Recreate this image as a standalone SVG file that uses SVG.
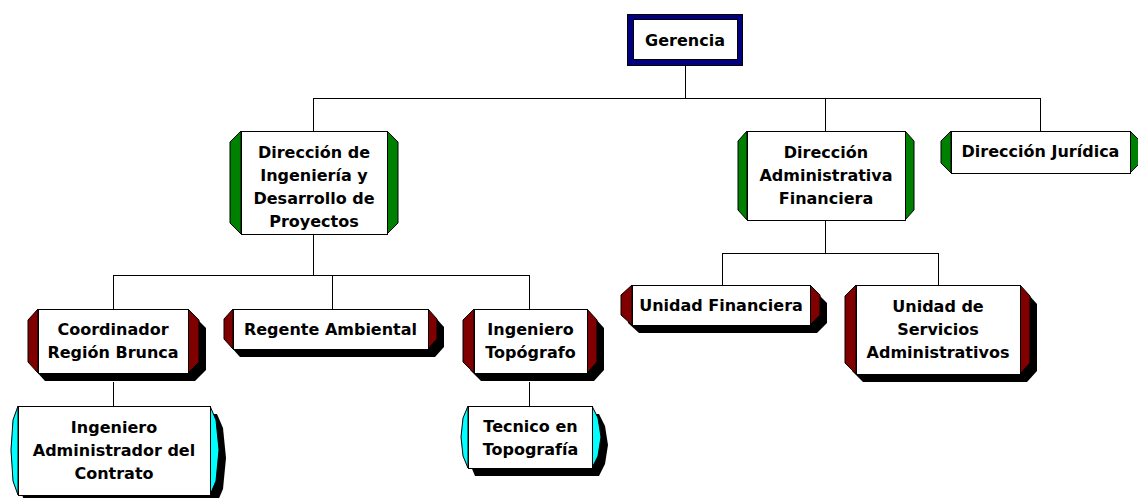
<svg xmlns="http://www.w3.org/2000/svg" width="1138" height="498" viewBox="0 0 1138 498">
  <style>
    .bg { fill: #ffffff; }
    .line { stroke: #000000; stroke-width: 1; fill: none; shape-rendering: crispEdges; }
    .box { fill: #ffffff; stroke: #000000; stroke-width: 1; shape-rendering: crispEdges; }
    .shadow { fill: #000000; }
    .green { fill: #008000; stroke: #000000; stroke-width: 1; }
    .red { fill: #800000; stroke: #000000; stroke-width: 1; }
    .cyan { fill: #00ffff; stroke: #000000; stroke-width: 1; }
    .navy { fill: #000080; stroke: #000000; stroke-width: 1; shape-rendering: crispEdges; }
    .label { font-family: "DejaVu Sans", "Liberation Sans", sans-serif; font-weight: bold; font-size: 16px; fill: #000000; text-anchor: middle; }
  </style>
  <rect class="bg" x="0" y="0" width="1138" height="498"/>

  <!-- connectors -->
  <g id="connectors">
    <path class="line" d="M685.5 65 V98.5 M313 98.5 H1040.5 M313.5 98 V131 M825.5 98 V131 M1040.5 98 V131"/>
    <path class="line" d="M313.5 234 V275.5 M113 275.5 H529.5 M113.5 275 V309 M332.5 275 V309 M529.5 275 V309"/>
    <path class="line" d="M825.5 220 V253.5 M722 253.5 H938.5 M722.5 253 V285 M938.5 253 V285"/>
    <path class="line" d="M113.5 382 V406 M529.5 382 V406"/>
  </g>

  <!-- top level -->
  <g id="gerencia">
    <rect class="navy" x="627.5" y="14.5" width="115" height="51"/>
    <rect class="box" x="633.5" y="19.5" width="104" height="40"/>
    <text class="label" x="685" y="46">Gerencia</text>
  </g>

  <!-- second level -->
  <g id="dir-ingenieria">
    <polygon class="green" points="241,131 230,142 230,223 241,234"/>
    <polygon class="green" points="387,131 398,142 398,223 387,234"/>
    <rect class="box" x="241.5" y="131.5" width="146" height="103"/>
    <text class="label" x="314" y="158">Dirección de</text>
    <text class="label" x="314" y="181">Ingeniería y</text>
    <text class="label" x="314" y="204">Desarrollo de</text>
    <text class="label" x="314" y="227">Proyectos</text>
  </g>

  <g id="dir-administrativa">
    <polygon class="green" points="747,131 738,141 738,210 747,220"/>
    <polygon class="green" points="905,131 914,141 914,210 905,220"/>
    <rect class="box" x="747.5" y="131.5" width="158" height="89"/>
    <text class="label" x="826" y="158">Dirección</text>
    <text class="label" x="826" y="181">Administrativa</text>
    <text class="label" x="826" y="204">Financiera</text>
  </g>

  <g id="dir-juridica">
    <polygon class="green" points="951,131 941,141 941,163 951,173"/>
    <polygon class="green" points="1130,131 1140,141 1140,163 1130,173"/>
    <rect class="box" x="951.5" y="131.5" width="179" height="42"/>
    <text class="label" x="1040.5" y="157">Dirección Jurídica</text>
  </g>

  <!-- third level -->
  <g id="coordinador">
    <polygon class="shadow" transform="translate(7,8)" points="38,309 188,309 199,320 199,362 188,373 38,373 28,362 28,320"/>
    <polygon class="red" points="38,309 28,320 28,362 38,373"/>
    <polygon class="red" points="188,309 199,320 199,362 188,373"/>
    <rect class="box" x="38.5" y="309.5" width="150" height="64"/>
    <text class="label" x="113" y="335">Coordinador</text>
    <text class="label" x="113" y="358">Región Brunca</text>
  </g>

  <g id="regente">
    <polygon class="shadow" transform="translate(7,8)" points="233,309 428,309 437,319 437,339 428,349 233,349 224,339 224,319"/>
    <polygon class="red" points="233,309 224,319 224,339 233,349"/>
    <polygon class="red" points="428,309 437,319 437,339 428,349"/>
    <rect class="box" x="233.5" y="309.5" width="195" height="40"/>
    <text class="label" x="330.5" y="335">Regente Ambiental</text>
  </g>

  <g id="topografo">
    <polygon class="shadow" transform="translate(7,8)" points="474,309 587,309 597,320 597,362 587,373 474,373 463,362 463,320"/>
    <polygon class="red" points="474,309 463,320 463,362 474,373"/>
    <polygon class="red" points="587,309 597,320 597,362 587,373"/>
    <rect class="box" x="474.5" y="309.5" width="113" height="64"/>
    <text class="label" x="530.5" y="335">Ingeniero</text>
    <text class="label" x="530.5" y="358">Topógrafo</text>
  </g>

  <g id="unidad-financiera">
    <polygon class="shadow" transform="translate(7,8)" points="632,285 810,285 820,295 820,315 810,325 632,325 621,315 621,295"/>
    <polygon class="red" points="632,285 621,295 621,315 632,325"/>
    <polygon class="red" points="810,285 820,295 820,315 810,325"/>
    <rect class="box" x="632.5" y="285.5" width="178" height="40"/>
    <text class="label" x="721" y="311">Unidad Financiera</text>
  </g>

  <g id="servicios-administrativos">
    <polygon class="shadow" transform="translate(7,8)" points="856,285 1020,285 1030,296 1030,363 1020,374 856,374 845,363 845,296"/>
    <polygon class="red" points="856,285 845,296 845,363 856,374"/>
    <polygon class="red" points="1020,285 1030,296 1030,363 1020,374"/>
    <rect class="box" x="856.5" y="285.5" width="164" height="89"/>
    <text class="label" x="938" y="312">Unidad de</text>
    <text class="label" x="938" y="335">Servicios</text>
    <text class="label" x="938" y="358">Administrativos</text>
  </g>

  <!-- fourth level -->
  <g id="administrador-contrato">
    <polygon class="shadow" transform="translate(7,8)" points="18,406 210,406 216,420 219,450 216,481 210,495 18,495 13,481 11,450 13,420"/>
    <polygon class="cyan" points="18,406 13,420 11,450 13,481 18,495"/>
    <polygon class="cyan" points="210,406 216,420 219,450 216,481 210,495"/>
    <rect class="box" x="18.5" y="406.5" width="192" height="89"/>
    <text class="label" x="114" y="433">Ingeniero</text>
    <text class="label" x="114" y="456">Administrador del</text>
    <text class="label" x="114" y="479">Contrato</text>
  </g>

  <g id="tecnico-topografia">
    <polygon class="shadow" transform="translate(7,8)" points="468,406 592,406 598,418 601,437 598,456 592,468 468,468 463,456 461,437 463,418"/>
    <polygon class="cyan" points="468,406 463,418 461,437 463,456 468,468"/>
    <polygon class="cyan" points="592,406 598,418 601,437 598,456 592,468"/>
    <rect class="box" x="468.5" y="406.5" width="124" height="62"/>
    <text class="label" x="530.5" y="432">Tecnico en</text>
    <text class="label" x="530.5" y="455">Topografía</text>
  </g>
</svg>
